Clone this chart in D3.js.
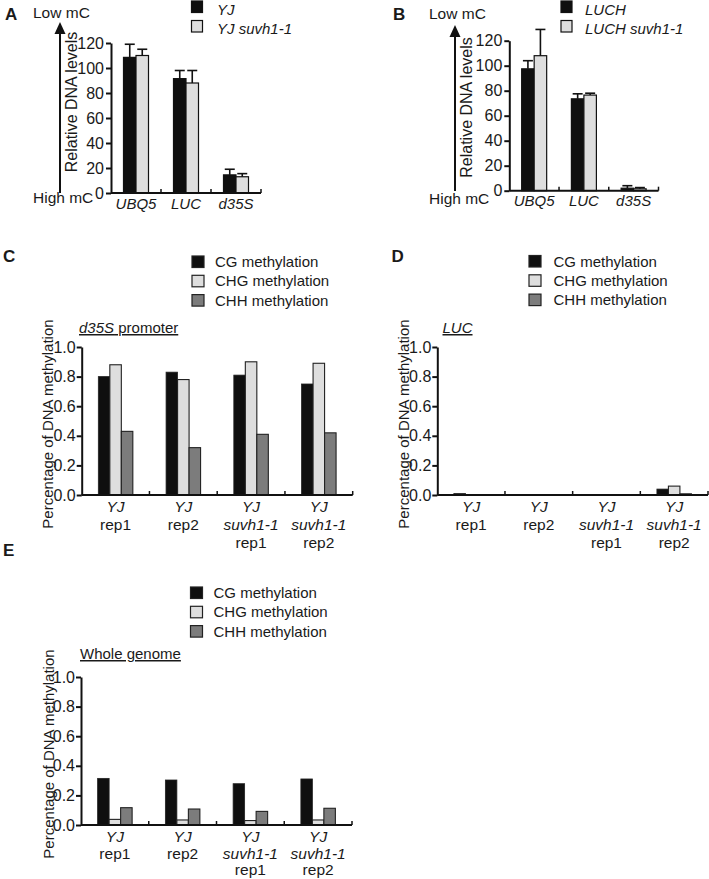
<!DOCTYPE html>
<html><head><meta charset="utf-8">
<script src="https://cdn.jsdelivr.net/npm/d3@7"></script>
<style>
html,body{margin:0;padding:0;background:#fff;}
svg{display:block;}
text{font-family:"Liberation Sans", Arial, Helvetica, sans-serif; fill:#1a1a1a;}
</style></head><body>
<svg id="chart" width="709" height="879"></svg>
<script>
// ---------- data ----------
const qpcrCategories = ["UBQ5", "LUC", "d35S"];
const qpcrTicks = [0, 20, 40, 60, 80, 100, 120];

const seriesA = ["YJ", "YJ suvh1-1"];
const aYJ = [108.5, 91.5, 14.5];
const aYJErr = [10.5, 6.5, 4.5];
const aSuvh = [110, 88, 13];
const aSuvhErr = [5, 10, 2.5];

const seriesB = ["LUCH", "LUCH suvh1-1"];
const bLUCH = [97.5, 73.5, 2];
const bLUCHErr = [6.5, 4, 2];
const bSuvh = [108, 76.5, 1.5];
const bSuvhErr = [21, 1.5, 1];

const samples = ["YJ rep1", "YJ rep2", "YJ suvh1-1 rep1", "YJ suvh1-1 rep2"];
const sampleLines = [
  [["YJ", true], ["rep1", false]],
  [["YJ", true], ["rep2", false]],
  [["YJ", true], ["suvh1-1", true], ["rep1", false]],
  [["YJ", true], ["suvh1-1", true], ["rep2", false]]
];
const contexts = ["CG methylation", "CHG methylation", "CHH methylation"];
const methTicks = [0, 0.2, 0.4, 0.6, 0.8, 1.0];

const cCG  = [0.80, 0.83, 0.81, 0.75];
const cCHG = [0.88, 0.78, 0.90, 0.89];
const cCHH = [0.43, 0.32, 0.41, 0.42];

const dCG  = [0.010, 0.003, 0.002, 0.040];
const dCHG = [0.003, 0.002, 0.002, 0.060];
const dCHH = [0.003, 0.002, 0.003, 0.008];

const eCG  = [0.315, 0.304, 0.279, 0.311];
const eCHG = [0.038, 0.034, 0.030, 0.034];
const eCHH = [0.117, 0.108, 0.092, 0.113];

// ---------- styles ----------
const INK = "#111";
const BLACK = "#0f0f0f", LIGHT = "#dedede", MID = "#7c7c7c";
const svg = d3.select("#chart");

function letter(t, x, y) {
  svg.append("text").attr("x", x).attr("y", y).attr("font-size", 17)
    .attr("font-weight", "bold").text(t);
}

function styleAxis(g, fs) {
  g.select(".domain").attr("stroke", INK).attr("stroke-width", 2);
  g.selectAll(".tick line").attr("stroke", INK).attr("stroke-width", 2);
  g.selectAll(".tick text").attr("font-size", fs).attr("fill", "#1a1a1a")
    .attr("font-family", "Liberation Sans, Arial, sans-serif");
}

// ---------- qPCR panels (A, B) ----------
function qpcrPanel(o) {
  letter(o.letter, o.letterX, o.letterY);
  svg.append("text").attr("x", o.lowX).attr("y", o.lowY).attr("font-size", 15.5).text("Low mC");
  svg.append("text").attr("x", o.highX).attr("y", o.highY).attr("font-size", 15.5).text("High mC");
  // arrow
  svg.append("line").attr("x1", o.arrowX).attr("x2", o.arrowX)
    .attr("y1", o.arrowBottom).attr("y2", o.arrowTop + 8)
    .attr("stroke", INK).attr("stroke-width", 2);
  svg.append("path")
    .attr("d", `M${o.arrowX},${o.arrowTop} L${o.arrowX - 5.5},${o.arrowTop + 12} L${o.arrowX + 5.5},${o.arrowTop + 12} Z`)
    .attr("fill", INK);

  const y = d3.scaleLinear().domain([0, 120]).range([o.y0, o.y0 - 150]);
  const x = d3.scaleBand().domain(qpcrCategories).range([o.axisX, o.axisEnd]);
  const inner = d3.scaleBand().domain(o.series).range([-12.5, 12.5]);
  const colors = [BLACK, LIGHT];

  o.values.forEach((vals, si) => {
    const g = svg.append("g");
    g.selectAll("rect").data(qpcrCategories).join("rect")
      .attr("x", (c) => x(c) + x.bandwidth() / 2 + inner(o.series[si]))
      .attr("y", (c, i) => y(vals[i]))
      .attr("width", inner.bandwidth())
      .attr("height", (c, i) => o.y0 - y(vals[i]))
      .attr("fill", colors[si])
      .attr("stroke", INK).attr("stroke-width", 1.2);
    // error bars (upper only)
    qpcrCategories.forEach((c, i) => {
      const cx = x(c) + x.bandwidth() / 2 + inner(o.series[si]) + inner.bandwidth() / 2;
      const top = y(vals[i] + o.errs[si][i]);
      g.append("line").attr("x1", cx).attr("x2", cx).attr("y1", y(vals[i])).attr("y2", top)
        .attr("stroke", INK).attr("stroke-width", 1.6);
      g.append("line").attr("x1", cx - 5).attr("x2", cx + 5).attr("y1", top).attr("y2", top)
        .attr("stroke", INK).attr("stroke-width", 1.6);
    });
  });

  const ya = svg.append("g").attr("transform", `translate(${o.axisX},0)`)
    .call(d3.axisLeft(y).tickValues(qpcrTicks).tickSize(5).tickSizeOuter(0).tickPadding(2));
  styleAxis(ya, 16);

  // x baseline with separators
  svg.append("line").attr("x1", o.axisX).attr("x2", o.axisEnd).attr("y1", o.y0).attr("y2", o.y0)
    .attr("stroke", INK).attr("stroke-width", 2);
  const seps = qpcrCategories.slice(1).map(c => x(c)).concat([o.axisEnd]);
  svg.selectAll(null).data(seps).join("line")
    .attr("x1", d => d).attr("x2", d => d).attr("y1", o.y0).attr("y2", o.y0 - 4)
    .attr("stroke", INK).attr("stroke-width", 1.5);
  svg.append("g").selectAll("text").data(qpcrCategories).join("text")
    .attr("x", c => x(c) + x.bandwidth() / 2).attr("y", o.y0 + 15.5)
    .attr("text-anchor", "middle").attr("font-size", 15).attr("font-style", "italic")
    .text(c => c);

  svg.append("text")
    .attr("transform", `translate(${o.titleX},${o.titleY}) rotate(-90)`)
    .attr("text-anchor", "middle").attr("font-size", 16).text("Relative DNA levels");

  // legend
  o.series.forEach((s, i) => {
    svg.append("rect").attr("x", o.legX).attr("y", o.legY + i * 19.5).attr("width", 11).attr("height", 11.5)
      .attr("fill", colors[i]).attr("stroke", INK).attr("stroke-width", 1.2);
    svg.append("text").attr("x", o.legTextX).attr("y", o.legY + 13.5 + i * 19.5)
      .attr("font-size", 15).attr("font-style", "italic").text(s);
  });
}

qpcrPanel({
  letter: "A", letterX: 5, letterY: 20,
  lowX: 33, lowY: 17.5, highX: 33, highY: 203,
  arrowX: 60, arrowTop: 22, arrowBottom: 193,
  y0: 193, axisX: 111, axisEnd: 261,
  titleX: 77, titleY: 102,
  series: seriesA, values: [aYJ, aSuvh], errs: [aYJErr, aSuvhErr],
  legX: 191.5, legY: 1, legTextX: 217
});
qpcrPanel({
  letter: "B", letterX: 393, letterY: 19.5,
  lowX: 429, lowY: 19, highX: 429, highY: 204,
  arrowX: 455, arrowTop: 25, arrowBottom: 191,
  y0: 190.7, axisX: 509.3, axisEnd: 658.5,
  titleX: 471.5, titleY: 107.5,
  series: seriesB, values: [bLUCH, bSuvh], errs: [bLUCHErr, bSuvhErr],
  legX: 561, legY: 1, legTextX: 585
});

// ---------- methylation panels (C, D, E) ----------
function methPanel(o) {
  letter(o.letter, o.letterX, o.letterY);
  const colors = [BLACK, LIGHT, MID];
  contexts.forEach((c, i) => {
    svg.append("rect").attr("x", o.legX).attr("y", o.legY + i * 19.3).attr("width", 12).attr("height", 11.5)
      .attr("fill", colors[i]).attr("stroke", "#222").attr("stroke-width", 1.2);
    svg.append("text").attr("x", o.legTextX).attr("y", o.legY + 11 + i * 19.3)
      .attr("font-size", 15).text(c);
  });

  const y = d3.scaleLinear().domain([0, 1]).range([o.y0, o.y0 - 148]);
  const x = d3.scaleBand().domain(samples).range([o.axisX, o.axisEnd]);
  const inner = d3.scaleBand().domain(contexts).range([-17.25, 17.25]);

  o.values.forEach((vals, si) => {
    svg.append("g").selectAll("rect").data(samples).join("rect")
      .attr("x", s => x(s) + x.bandwidth() / 2 + inner(contexts[si]))
      .attr("y", (s, i) => y(vals[i]))
      .attr("width", inner.bandwidth())
      .attr("height", (s, i) => o.y0 - y(vals[i]))
      .attr("fill", colors[si])
      .attr("stroke", "#222").attr("stroke-width", si === 0 ? 0.8 : 1.1);
  });

  const ya = svg.append("g").attr("transform", `translate(${o.axisX},0)`)
    .call(d3.axisLeft(y).tickValues(methTicks).tickSize(5).tickSizeOuter(0).tickPadding(1)
      .tickFormat(d3.format(".1f")));
  styleAxis(ya, 16);

  svg.append("line").attr("x1", o.axisX).attr("x2", o.axisEnd).attr("y1", o.y0).attr("y2", o.y0)
    .attr("stroke", INK).attr("stroke-width", 2);
  const seps = samples.slice(1).map(s => x(s)).concat([o.axisEnd]);
  svg.selectAll(null).data(seps).join("line")
    .attr("x1", d => d).attr("x2", d => d).attr("y1", o.y0).attr("y2", o.y0 - 4)
    .attr("stroke", INK).attr("stroke-width", 1.5);

  samples.forEach((s, i) => {
    const cx = x(s) + x.bandwidth() / 2;
    sampleLines[i].forEach((ln, k) => {
      svg.append("text").attr("x", cx).attr("y", o.y0 + 17 + k * o.lineGap)
        .attr("text-anchor", "middle").attr("font-size", 15.5)
        .attr("font-style", ln[1] ? "italic" : "normal").text(ln[0]);
    });
  });

  svg.append("text")
    .attr("transform", `translate(${o.ytX},${o.ytY}) rotate(-90)`)
    .attr("text-anchor", "middle").attr("font-size", 15).text("Percentage of DNA methylation");

  const t = svg.append("text").attr("x", o.titleX).attr("y", o.titleY).attr("font-size", 15)
    .attr("text-decoration", "underline");
  o.title.forEach(p => t.append("tspan").attr("font-style", p[1] ? "italic" : "normal").text(p[0]));
}

methPanel({
  letter: "C", letterX: 3, letterY: 262,
  legX: 192, legY: 256, legTextX: 215,
  y0: 495, axisX: 81.7, axisEnd: 352.7,
  ytX: 53, ytY: 424, lineGap: 18,
  title: [["d35S", true], [" promoter", false]], titleX: 79, titleY: 333,
  values: [cCG, cCHG, cCHH]
});
methPanel({
  letter: "D", letterX: 391.5, letterY: 262,
  legX: 529, legY: 255.5, legTextX: 553.5,
  y0: 495, axisX: 437.3, axisEnd: 708,
  ytX: 408.5, ytY: 424, lineGap: 18,
  title: [["LUC", true]], titleX: 442.5, titleY: 333,
  values: [dCG, dCHG, dCHH]
});
methPanel({
  letter: "E", letterX: 3, letterY: 556,
  legX: 190.5, legY: 587, legTextX: 213.5,
  y0: 825, axisX: 81, axisEnd: 352,
  ytX: 54, ytY: 754, lineGap: 16.5,
  title: [["Whole genome", false]], titleX: 80, titleY: 659,
  values: [eCG, eCHG, eCHH]
});
</script>
</body></html>
